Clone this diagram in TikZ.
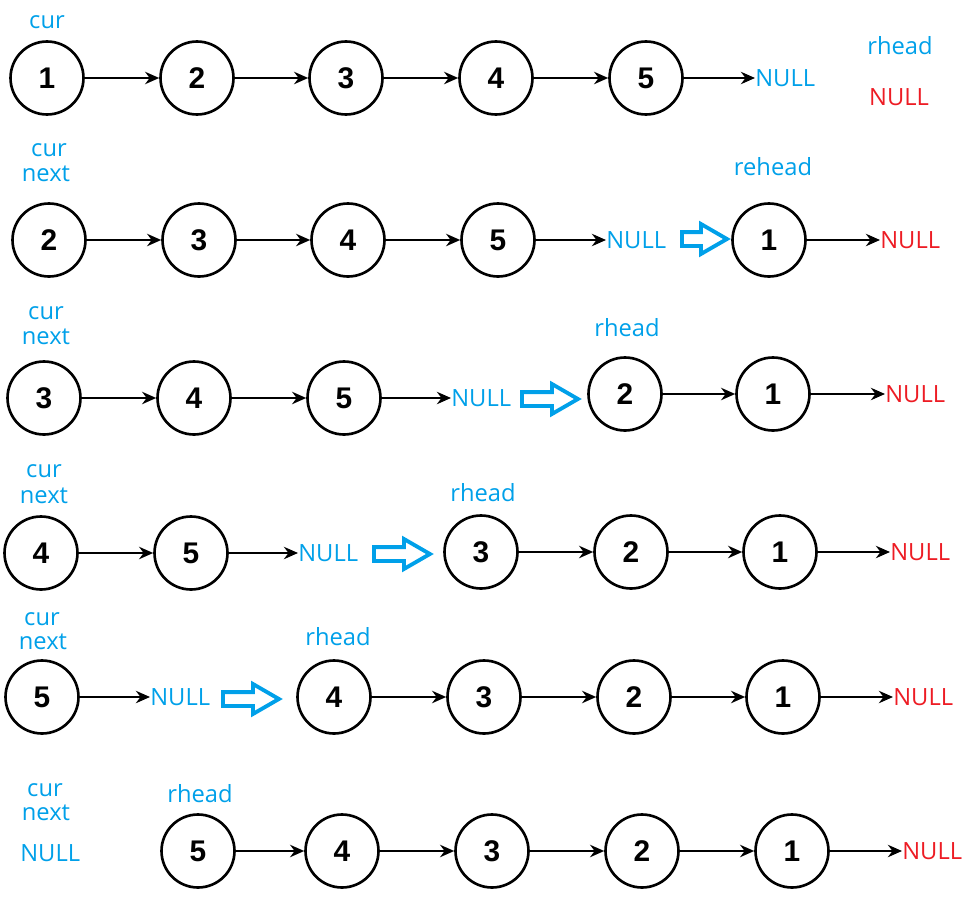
\documentclass[tikz,border=0pt]{standalone}
\usepackage{fontspec}
\setmainfont{Open Sans}
\newfontfamily\numfont{Liberation Sans}
\usetikzlibrary{positioning, arrows.meta, shapes.arrows}
\definecolor{ptrblue}{RGB}{0,160,233}
\definecolor{nullred}{RGB}{237,28,36}

\begin{document}
\begin{tikzpicture}[x=0.02cm, y=-0.02cm,
  lnode/.style={circle, draw, line width=1.5pt, minimum size=1.46cm, inner sep=0pt,
    font=\numfont\bfseries\fontsize{17}{17}\selectfont},
  ptr/.style={text=ptrblue, inner sep=0pt, font=\fontsize{13.5}{13.5}\selectfont},
  nul/.style={ptr, anchor=west},
  rnul/.style={nul, text=nullred},
  link/.style={-{Stealth[length=8pt, width=7pt]}, line width=1.4pt},
  turn/.style={single arrow, draw=ptrblue, line width=2.2pt, inner sep=0.1cm, anchor=tail,
    minimum height=1.12cm, single arrow head extend=0.16cm, single arrow tip angle=60}]
\useasboundingbox (0,0) rectangle (975,906);

% row 1
\node[ptr] (acur) at (47,22) {cur};
\foreach \v/\x in {1/47,2/197,3/346,4/496,5/646}
  \node[lnode] (a\v) at (\x,78) {\v};
\foreach \p/\q in {1/2,2/3,3/4,4/5}
  \draw[link] (a\p) -- (a\q);
\node[nul] (anull) at (755,78) {NULL};
\draw[link] (a5) -- (anull.west);
\node[ptr] (arhead) at (900,46) {rhead};
\node[ptr, text=nullred] (arnull) at (899,97) {NULL};

% row 2
\node[ptr] (bcur) at (49,150) {cur};
\node[ptr] (bnext) at (46,174) {next};
\foreach \v/\x in {2/49,3/199,4/348,5/498}
  \node[lnode] (b\v) at (\x,240) {\v};
\foreach \p/\q in {2/3,3/4,4/5}
  \draw[link] (b\p) -- (b\q);
\node[nul] (bnull) at (606,240) {NULL};
\draw[link] (b5) -- (bnull.west);
\node[turn, minimum height=0.9cm] (bturn) at (680,239) {};
\node[ptr] (brhead) at (773,167) {rehead};
\node[lnode] (b1) at (769,240) {1};
\node[rnul] (brnull) at (880,240) {NULL};
\draw[link] (b1) -- (brnull.west);

% row 3
\node[ptr] (ccur) at (46,313) {cur};
\node[ptr] (cnext) at (46,337) {next};
\foreach \v/\x in {3/44,4/194,5/344}
  \node[lnode] (c\v) at (\x,398) {\v};
\foreach \p/\q in {3/4,4/5}
  \draw[link] (c\p) -- (c\q);
\node[nul] (cnull) at (451,398) {NULL};
\draw[link] (c5) -- (cnull.west);
\node[turn] (cturn) at (520,399) {};
\node[ptr] (crhead) at (627,328) {rhead};
\foreach \v/\x in {2/625,1/773}
  \node[lnode] (c\v) at (\x,394) {\v};
\draw[link] (c2) -- (c1);
\node[rnul] (crnull) at (885,394) {NULL};
\draw[link] (c1) -- (crnull.west);

% row 4
\node[ptr] (dcur) at (44,471) {cur};
\node[ptr] (dnext) at (44,496) {next};
\foreach \v/\x in {4/41,5/191}
  \node[lnode] (d\v) at (\x,553) {\v};
\draw[link] (d4) -- (d5);
\node[nul] (dnull) at (298,553) {NULL};
\draw[link] (d5) -- (dnull.west);
\node[turn] (dturn) at (372,554) {};
\node[ptr] (drhead) at (483,493) {rhead};
\foreach \v/\x in {3/481,2/631,1/780}
  \node[lnode] (d\v) at (\x,552) {\v};
\foreach \p/\q in {3/2,2/1}
  \draw[link] (d\p) -- (d\q);
\node[rnul] (drnull) at (890,552) {NULL};
\draw[link] (d1) -- (drnull.west);

% row 5
\node[ptr] (ecur) at (42,619) {cur};
\node[ptr] (enext) at (43,642) {next};
\node[lnode] (e5) at (42,697) {5};
\node[nul] (enull) at (150,697) {NULL};
\draw[link] (e5) -- (enull.west);
\node[turn] (eturn) at (221,699) {};
\node[ptr] (erhead) at (338,637) {rhead};
\foreach \v/\x in {4/334,3/484,2/634,1/783}
  \node[lnode] (e\v) at (\x,697) {\v};
\foreach \p/\q in {4/3,3/2,2/1}
  \draw[link] (e\p) -- (e\q);
\node[rnul] (ernull) at (893,697) {NULL};
\draw[link] (e1) -- (ernull.west);

% row 6
\node[ptr] (fcur) at (45,790) {cur};
\node[ptr] (fnext) at (46,813) {next};
\node[nul] (fnull) at (20,853) {NULL};
\node[ptr] (frhead) at (200,794) {rhead};
\foreach \v/\x in {5/198,4/342,3/492,2/642,1/792}
  \node[lnode] (f\v) at (\x,851) {\v};
\foreach \p/\q in {5/4,4/3,3/2,2/1}
  \draw[link] (f\p) -- (f\q);
\node[rnul] (frnull) at (902,851) {NULL};
\draw[link] (f1) -- (frnull.west);
\end{tikzpicture}
\end{document}
